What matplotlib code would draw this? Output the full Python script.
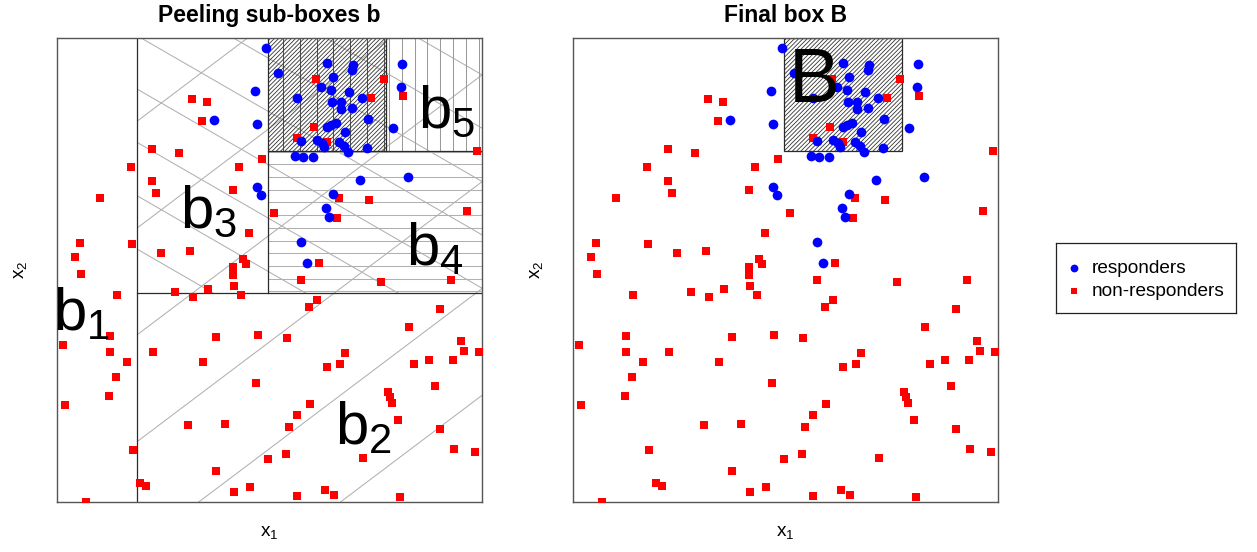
import numpy as np
import matplotlib
matplotlib.use("Agg")
import matplotlib.pyplot as plt
from matplotlib.patches import Rectangle
from matplotlib.lines import Line2D

plt.rcParams['font.family'] = ['Liberation Sans', 'DejaVu Sans']

# ---------------- data ----------------
blue_x = [0.492, 0.466, 0.369, 0.471, 0.471, 0.480, 0.521, 0.635, 0.696, 0.694,
          0.812, 0.649, 0.621, 0.645, 0.809, 0.687, 0.565, 0.647, 0.668, 0.718,
          0.668, 0.694, 0.732, 0.656, 0.645, 0.635, 0.678, 0.791, 0.574, 0.612,
          0.624, 0.628, 0.664, 0.675, 0.685, 0.729, 0.560, 0.579, 0.602, 0.713,
          0.826, 0.649, 0.633, 0.640, 0.574, 0.588]
blue_y = [0.978, 0.886, 0.823, 0.815, 0.679, 0.662, 0.925, 0.946, 0.942, 0.931,
          0.944, 0.916, 0.894, 0.888, 0.894, 0.884, 0.871, 0.862, 0.862, 0.871,
          0.847, 0.849, 0.825, 0.817, 0.813, 0.808, 0.797, 0.806, 0.778, 0.780,
          0.774, 0.765, 0.776, 0.767, 0.754, 0.763, 0.746, 0.744, 0.744, 0.694,
          0.700, 0.664, 0.634, 0.614, 0.560, 0.515]

red_x = [0.318, 0.353, 0.341, 0.224, 0.287, 0.482, 0.174, 0.428, 0.224, 0.233,
         0.414, 0.101, 0.452, 0.054, 0.176, 0.245, 0.313, 0.042, 0.438, 0.445,
         0.414, 0.609, 0.770, 0.814, 0.739, 0.605, 0.565, 0.635, 0.988, 0.664,
         0.734, 0.511, 0.659, 0.965, 0.616, 0.056, 0.141, 0.278, 0.320, 0.355,
         0.414, 0.416, 0.433, 0.125, 0.374, 0.473, 0.014, 0.125, 0.226, 0.165,
         0.344, 0.139, 0.468, 0.122, 0.019, 0.308, 0.395, 0.179, 0.496, 0.374,
         0.195, 0.209, 0.416, 0.454, 0.068, 0.574, 0.762, 0.927, 0.612, 0.593,
         0.901, 0.828, 0.541, 0.951, 0.678, 0.958, 0.993, 0.635, 0.666, 0.840,
         0.875, 0.932, 0.889, 0.779, 0.784, 0.788, 0.595, 0.565, 0.546, 0.802,
         0.901, 0.934, 0.984, 0.539, 0.720, 0.631, 0.652, 0.565, 0.807]
red_y = [0.869, 0.862, 0.821, 0.761, 0.752, 0.739, 0.722, 0.722, 0.692, 0.666,
         0.672, 0.655, 0.580, 0.558, 0.556, 0.537, 0.541, 0.528, 0.524, 0.513,
         0.506, 0.912, 0.912, 0.875, 0.871, 0.808, 0.784, 0.776, 0.756, 0.655,
         0.651, 0.623, 0.612, 0.627, 0.515, 0.491, 0.446, 0.453, 0.442, 0.459,
         0.489, 0.466, 0.446, 0.358, 0.356, 0.360, 0.338, 0.323, 0.323, 0.302,
         0.302, 0.269, 0.256, 0.228, 0.209, 0.166, 0.168, 0.112, 0.093, 0.067,
         0.041, 0.034, 0.022, 0.032, 0.000, 0.478, 0.474, 0.478, 0.435, 0.420,
         0.416, 0.377, 0.353, 0.347, 0.321, 0.325, 0.323, 0.291, 0.297, 0.297,
         0.306, 0.306, 0.250, 0.237, 0.226, 0.213, 0.211, 0.188, 0.162, 0.177,
         0.157, 0.114, 0.108, 0.103, 0.095, 0.026, 0.015, 0.013, 0.011]

# peeling cuts (in x1 / x2 units)
cut_b1_x = 0.188   # b1 peeled: x1 < cut
cut_b2_y = 0.450   # b2 peeled: x2 < cut
cut_b3_x = 0.496   # b3 peeled: x1 < cut
cut_b4_y = 0.756   # b4 peeled: x2 < cut
cut_b5_x = 0.774   # b5 peeled: x1 > cut

box_labels = ['b_1', 'b_2', 'b_3', 'b_4', 'b_5']
box_label_x = [0.057, 0.722, 0.356, 0.889, 0.917]
box_label_y = [0.403, 0.159, 0.625, 0.543, 0.841]
final_label = 'B'
final_label_xy = (0.567, 0.904)

titles = ['Peeling sub-boxes b', 'Final box B']
legend_labels = ['responders', 'non-responders']

# ---------------- figure ----------------
FW, FH, DPI = 1257, 552, 100
fig = plt.figure(figsize=(FW / DPI, FH / DPI), dpi=DPI)
axL = fig.add_axes([57 / FW, 50 / FH, 425 / FW, 464 / FH])
axR = fig.add_axes([573 / FW, 50 / FH, 425 / FW, 464 / FH])
W = 425.0
H = 464.0

LIGHT = '#b0b0b0'
DARK = '#333333'


def hatch(ax, rect, angle, spacing, through, color, lw, z):
    x0, x1, y0, y1 = rect
    a = np.deg2rad(angle)
    d = np.array([np.cos(a), np.sin(a)])
    n = np.array([-np.sin(a), np.cos(a)])
    corners = np.array([[x0 * W, y0 * H], [x1 * W, y0 * H],
                        [x0 * W, y1 * H], [x1 * W, y1 * H]])
    c = corners @ n
    ct = float(np.dot(np.array(through), n))
    kmin = int(np.floor((c.min() - ct) / spacing)) - 1
    kmax = int(np.ceil((c.max() - ct) / spacing)) + 1
    clip = Rectangle((x0, y0), x1 - x0, y1 - y0, transform=ax.transData)
    L = 3 * (W + H)
    for k in range(kmin, kmax + 1):
        cc = ct + k * spacing
        p = cc * n
        pts = np.array([p - L * d, p + L * d])
        ln, = ax.plot(pts[:, 0] / W, pts[:, 1] / H, color=color, lw=lw,
                      zorder=z, solid_capstyle='butt')
        ln.set_clip_path(clip)


region_all = (cut_b1_x, 1.0, 0.0, 1.0)
region_top = (cut_b1_x, 1.0, cut_b2_y, 1.0)
region_b4 = (cut_b3_x, 1.0, cut_b2_y, cut_b4_y)
region_b5 = (cut_b5_x, 1.0, cut_b4_y, 1.0)
region_B = (cut_b3_x, cut_b5_x, cut_b4_y, 1.0)

# left panel hatching
hatch(axL, region_all, 37, 85.3, (0, 0), LIGHT, 0.75, 1)
hatch(axL, region_top, -30, 46.2, (80, 413), LIGHT, 0.75, 1)
hatch(axL, region_b4, 0, 12.7, (0, 337.7), LIGHT, 0.75, 1)
hatch(axL, region_b5, 90, 12.8, (344.7, 0), '#9a9a9a', 0.75, 1)
hatch(axL, region_B, 90, 16.7, (226.3, 0), '#555555', 0.75, 1.2)
hatch(axL, region_B, 45, 3.0, (211, 351), DARK, 0.6, 1.3)

# right panel hatching
hatch(axR, region_B, 45, 3.0, (211, 351), DARK, 0.6, 1.3)

# box borders (left)
bc = '#2a2a2a'
axL.plot([cut_b1_x, cut_b1_x], [0, 1], color=bc, lw=0.9, zorder=1.5)
axL.plot([cut_b1_x, 1], [cut_b2_y, cut_b2_y], color=bc, lw=0.9, zorder=1.5)
axL.plot([cut_b3_x, cut_b3_x], [cut_b2_y, 1], color=bc, lw=0.9, zorder=1.5)
axL.plot([cut_b3_x, 1], [cut_b4_y, cut_b4_y], color=bc, lw=0.9, zorder=1.5)
axL.plot([cut_b5_x, cut_b5_x], [cut_b4_y, 1], color=bc, lw=0.9, zorder=1.5)
# final box border (right)
axR.add_patch(Rectangle((cut_b3_x, cut_b4_y), cut_b5_x - cut_b3_x, 1 - cut_b4_y,
                        fill=False, edgecolor=bc, lw=0.9, zorder=1.5))

for ax in (axL, axR):
    ax.plot(red_x, red_y, 's', color='red', ms=6.2, mew=0, zorder=3)
    ax.plot(blue_x, blue_y, 'o', color='blue', ms=7.0, mew=0, zorder=4)
    ax.set_xlim(0, 1)
    ax.set_ylim(0, 1)
    ax.set_xticks([])
    ax.set_yticks([])
    for s in ax.spines.values():
        s.set_color('#555555')
        s.set_linewidth(1.0)
    ax.text(0.5, -0.065, r'$\mathregular{x_1}$', transform=ax.transAxes,
            ha='center', va='center', fontsize=13.7)
    ax.text(-0.087, 0.5, r'$\mathregular{x_2}$', transform=ax.transAxes,
            ha='center', va='center', fontsize=13.7, rotation=90)

for lab, lx, ly in zip(box_labels, box_label_x, box_label_y):
    axL.text(lx, ly, r'$\mathregular{%s}$' % lab, ha='center', va='center',
             fontsize=43, zorder=5)
axR.text(final_label_xy[0], final_label_xy[1], final_label, ha='center',
         va='center', fontsize=55, zorder=5)

axL.set_title(titles[0], fontsize=16.5, fontweight='bold', pad=11.5)
axR.set_title(titles[1], fontsize=16.5, fontweight='bold', pad=11.5)

# legend
axG = fig.add_axes([1056 / FW, (FH - 313) / FH, 180 / FW, 70 / FH])
axG.set_xlim(0, 180)
axG.set_ylim(70, 0)
axG.set_xticks([])
axG.set_yticks([])
for s in axG.spines.values():
    s.set_color('#222222')
    s.set_linewidth(0.9)
axG.plot([18], [24.5], 'o', color='blue', ms=5.6, mew=0)
axG.plot([18], [47.5], 's', color='red', ms=5.0, mew=0)
axG.text(36, 25.5, legend_labels[0], va='center', ha='left', fontsize=13.7)
axG.text(36, 48.5, legend_labels[1], va='center', ha='left', fontsize=13.7)

fig.savefig('out.png', dpi=DPI)
